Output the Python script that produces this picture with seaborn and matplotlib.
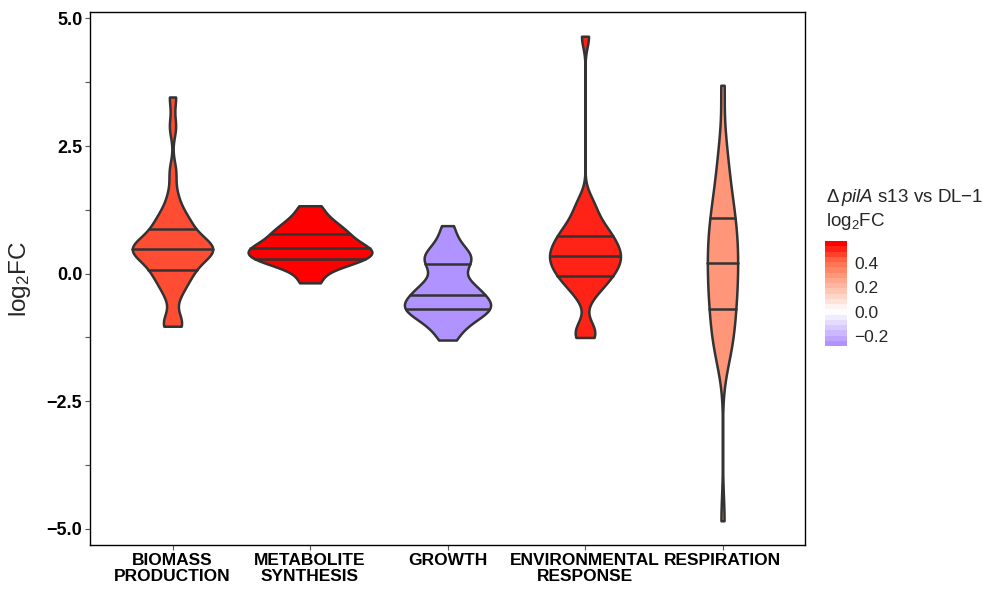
import numpy as np
import pandas as pd
import seaborn as sns
import matplotlib.pyplot as plt
from matplotlib.colors import LinearSegmentedColormap, Normalize
from matplotlib.cm import ScalarMappable

# Data (log2FC per gene)
categories = ["BIOMASS\nPRODUCTION", "METABOLITE\nSYNTHESIS", "GROWTH",
              "ENVIRONMENTAL\nRESPONSE", "RESPIRATION"]

biomass = [-1.03, -0.98, -0.92, -0.45, -0.30, -0.18, -0.08, 0.00, 0.06, 0.10,
           0.20, 0.28, 0.34, 0.38, 0.41, 0.44, 0.46, 0.48, 0.50, 0.52, 0.55,
           0.58, 0.62, 0.68, 0.76, 0.84, 0.92, 0.98, 1.06, 1.15, 1.30, 1.55,
           2.00, 2.88, 3.46]
metabolite = [-0.18, 0.05, 0.20, 0.24, 0.26, 0.30, 0.38, 0.41, 0.44, 0.47,
              0.52, 0.56, 0.62, 0.70, 0.77, 0.82, 0.90, 1.00, 1.12, 1.33]
growth = [-1.30, -1.18, -1.05, -0.96, -0.90, -0.85, -0.80, -0.76, -0.72, -0.69,
          -0.67, -0.65, -0.63, -0.61, -0.59, -0.56, -0.51, -0.45, -0.38, -0.35,
          -0.32, -0.29, -0.25, -0.20, -0.12, 0.05, 0.17, 0.22, 0.27, 0.31,
          0.35, 0.39, 0.45, 0.58, 0.75, 0.94]
environment = [-1.25, -1.18, -1.05, -0.45, -0.30, -0.20, -0.12, -0.05, 0.00, 0.06,
               0.12, 0.18, 0.23, 0.28, 0.33, 0.37, 0.41, 0.46, 0.52, 0.58, 0.64,
               0.70, 0.76, 0.82, 0.90, 1.00, 1.12, 1.28, 1.45, 4.65]
respiration = [-4.84, -1.70, -1.52, -1.36, -1.20, -1.05, -0.90, -0.72, -0.60, -0.48,
               -0.35, -0.22, -0.10, 0.02, 0.14, 0.26, 0.38, 0.50, 0.62, 0.74,
               0.86, 1.00, 1.12, 1.28, 1.45, 1.65, 1.90, 2.20, 2.60, 3.69]

# fill of each violin: mean log2FC of the category (legend scale)
mean_fc = [0.47, 0.58, -0.28, 0.53, 0.31]

y_ticks = [-5.0, -2.5, 0.0, 2.5, 5.0]
y_tick_labels = ["\u22125.0", "\u22122.5", "0.0", "2.5", "5.0"]
cbar_ticks = [-0.2, 0.0, 0.2, 0.4]
cbar_tick_labels = ["\u22120.2", "0.0", "0.2", "0.4"]

groups = [biomass, metabolite, growth, environment, respiration]
df = pd.DataFrame({
    "category": np.repeat(categories, [len(g) for g in groups]),
    "log2FC": np.concatenate(groups),
})


def nrd0(kde):
    # R's bw.nrd0 (what ggplot's geom_violin uses), as a scipy factor
    x = kde.dataset[0]
    sd = x.std(ddof=1)
    q1, q3 = np.percentile(x, [25, 75])
    h = 0.9 * min(sd, (q3 - q1) / 1.34) * len(x) ** -0.2
    return h / sd


sns.set_theme(style="white")
plt.rcParams["font.family"] = ["Liberation Sans", "DejaVu Sans"]
plt.rcParams["mathtext.fontset"] = "custom"
plt.rcParams["mathtext.rm"] = "Liberation Sans"
plt.rcParams["mathtext.it"] = "Liberation Sans:italic"
plt.rcParams["mathtext.bf"] = "Liberation Sans:bold"

# purple - white - red gradient, white at 0
vmin, vmax = min(mean_fc), max(mean_fc)
p0 = -vmin / (vmax - vmin)
cmap = LinearSegmentedColormap.from_list("fc", [
    (0.0, "#B193FF"), (p0 * 0.5, "#D9CCFF"), (p0, "#FFFFFF"),
    (p0 + 0.25 * (1 - p0), "#FFCFBF"), (p0 + 0.5 * (1 - p0), "#FF9E81"),
    (p0 + 0.75 * (1 - p0), "#FF6846"), (1.0, "#FF0000")])
norm = Normalize(vmin, vmax)
palette = {c: cmap(norm(v)) for c, v in zip(categories, mean_fc)}

fig = plt.figure(figsize=(9.89, 5.9), dpi=100)
ax = fig.add_axes([90 / 989, 45 / 590, 715 / 989, 533 / 590])

sns.violinplot(data=df, x="category", y="log2FC", hue="category",
               order=categories, palette=palette, saturation=1, legend=False,
               inner="quart", cut=0, width=0.9, density_norm="area",
               common_norm=True, bw_method=nrd0, bw_adjust=0.8, gridsize=512,
               linewidth=1.8, linecolor="#333333", ax=ax)

# quantile lines solid, like draw_quantiles
for ln in ax.lines:
    ln.set_linestyle("-")
    ln.set_color("#333333")
    ln.set_linewidth(1.8)

ymin, ymax = df["log2FC"].min(), df["log2FC"].max()
pad = 0.05 * (ymax - ymin)
ax.set_ylim(ymin - pad, ymax + pad)
ax.set_xlim(-0.6, len(categories) - 0.4)
ax.set_yticks(y_ticks)
ax.set_yticklabels(y_tick_labels)
ax.set_yticks([-3.75, -1.25, 1.25, 3.75], minor=True)
ax.set_xlabel("")
ax.set_ylabel("log$_2$FC", fontsize=17.5, labelpad=10)
ax.tick_params(axis="both", which="both", length=3.5, width=0.8,
               color="#555555", direction="out", pad=2,
               left=True, bottom=True)
ax.tick_params(axis="y", labelsize=13)
ax.tick_params(axis="x", labelsize=12.5, pad=2)
for lab in ax.get_xticklabels() + ax.get_yticklabels():
    lab.set_fontweight("bold")
    lab.set_color("black")
    lab.set_linespacing(1.15)
for sp in ax.spines.values():
    sp.set_visible(True)
    sp.set_color("black")
    sp.set_linewidth(1.0)

# colour bar legend
cax = fig.add_axes([825 / 989, 1 - 346 / 590, 22 / 989, 105 / 590])
cb = fig.colorbar(ScalarMappable(norm=norm, cmap=cmap.resampled(20)),
                  cax=cax, ticks=cbar_ticks)
cb.outline.set_visible(False)
cax.set_yticklabels(cbar_tick_labels)
cax.tick_params(axis="y", left=True, right=True, direction="in",
                color="white", length=3.2, width=0.9, labelsize=12.5, pad=5)

fig.text(826 / 989, 1 - 197 / 590, "\u0394$\\,\\mathit{pilA}$ s13 vs DL\u22121",
         fontsize=13.5, va="center", ha="left")
fig.text(826 / 989, 1 - 221 / 590, "log$_2$FC", fontsize=13.5,
         va="center", ha="left")

fig.savefig("out.png", dpi=100)
